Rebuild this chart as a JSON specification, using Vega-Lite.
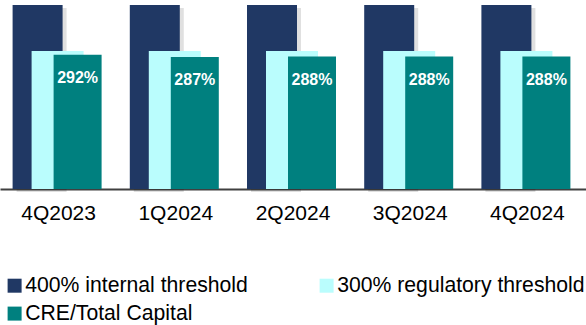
{
  "$schema": "https://vega.github.io/schema/vega-lite/v6.json",
  "width": 586,
  "height": 189,
  "autosize": {"type": "none"},
  "padding": {"left": 0, "top": 0, "right": 0, "bottom": 136},
  "background": "white",
  "config": {
    "view": {"stroke": null},
    "font": "Liberation Sans"
  },
  "data": {
    "values": [
      {"quarter": "4Q2023", "series": "400% internal threshold", "value": 400},
      {"quarter": "1Q2024", "series": "400% internal threshold", "value": 400},
      {"quarter": "2Q2024", "series": "400% internal threshold", "value": 400},
      {"quarter": "3Q2024", "series": "400% internal threshold", "value": 400},
      {"quarter": "4Q2024", "series": "400% internal threshold", "value": 400},
      {"quarter": "4Q2023", "series": "300% regulatory threshold", "value": 300},
      {"quarter": "1Q2024", "series": "300% regulatory threshold", "value": 300},
      {"quarter": "2Q2024", "series": "300% regulatory threshold", "value": 300},
      {"quarter": "3Q2024", "series": "300% regulatory threshold", "value": 300},
      {"quarter": "4Q2024", "series": "300% regulatory threshold", "value": 300},
      {"quarter": "4Q2023", "series": "CRE/Total Capital", "value": 292},
      {"quarter": "1Q2024", "series": "CRE/Total Capital", "value": 287},
      {"quarter": "2Q2024", "series": "CRE/Total Capital", "value": 288},
      {"quarter": "3Q2024", "series": "CRE/Total Capital", "value": 288},
      {"quarter": "4Q2024", "series": "CRE/Total Capital", "value": 288}
    ]
  },
  "encoding": {
    "x": {
      "field": "quarter",
      "type": "nominal",
      "sort": null,
      "scale": {"paddingInner": 0, "paddingOuter": 0},
      "axis": {
        "title": null,
        "labelAngle": 0,
        "ticks": false,
        "labelFontSize": 21,
        "labelColor": "#000000",
        "labelPadding": 13,
        "domainColor": "#404040",
        "domainWidth": 2,
        "labelFont": "Liberation Sans"
      }
    },
    "y": {
      "field": "value",
      "type": "quantitative",
      "scale": {"domain": [0, 411], "nice": false},
      "axis": null
    }
  },
  "layer": [
    {
      "transform": [{"filter": "datum.series === '400% internal threshold'"}],
      "mark": {"type": "bar", "width": 50, "xOffset": -17, "yOffset": 3, "color": "#000000", "opacity": 0.12},
      "encoding": {}
    },
    {
      "transform": [{"filter": "datum.series === '400% internal threshold'"}],
      "mark": {"type": "bar", "width": 50, "xOffset": -21},
      "encoding": {
        "color": {
          "field": "series",
          "type": "nominal",
          "scale": {
            "domain": ["400% internal threshold", "CRE/Total Capital", "300% regulatory threshold"],
            "range": ["#203864", "#00807F", "#BAFDFD"]
          },
          "legend": {
            "title": null,
            "orient": "none",
            "legendX": 4,
            "legendY": 275,
            "columns": 2,
            "columnPadding": 68,
            "rowPadding": 6,
            "symbolType": "square",
            "symbolSize": 196,
            "symbolStrokeWidth": 0,
            "labelFontSize": 21.2,
            "labelFont": "Liberation Sans",
            "labelColor": "#000000",
            "labelOffset": 0,
            "labelLimit": 400
          }
        }
      }
    },
    {
      "transform": [{"filter": "datum.series === '300% regulatory threshold'"}],
      "mark": {"type": "bar", "width": 52, "xOffset": -1},
      "encoding": {
        "color": {"field": "series", "type": "nominal"}
      }
    },
    {
      "transform": [{"filter": "datum.series === 'CRE/Total Capital'"}],
      "mark": {"type": "bar", "width": 48, "xOffset": 19},
      "encoding": {
        "color": {"field": "series", "type": "nominal"}
      }
    },
    {
      "transform": [
        {"filter": "datum.series === 'CRE/Total Capital'"},
        {"calculate": "datum.value + '%'", "as": "label"}
      ],
      "mark": {"type": "text", "xOffset": 19, "dy": 23, "baseline": "middle", "align": "center", "fontSize": 16, "fontWeight": "bold", "color": "white", "font": "Liberation Sans"},
      "encoding": {
        "text": {"field": "label", "type": "nominal"}
      }
    }
  ]
}
